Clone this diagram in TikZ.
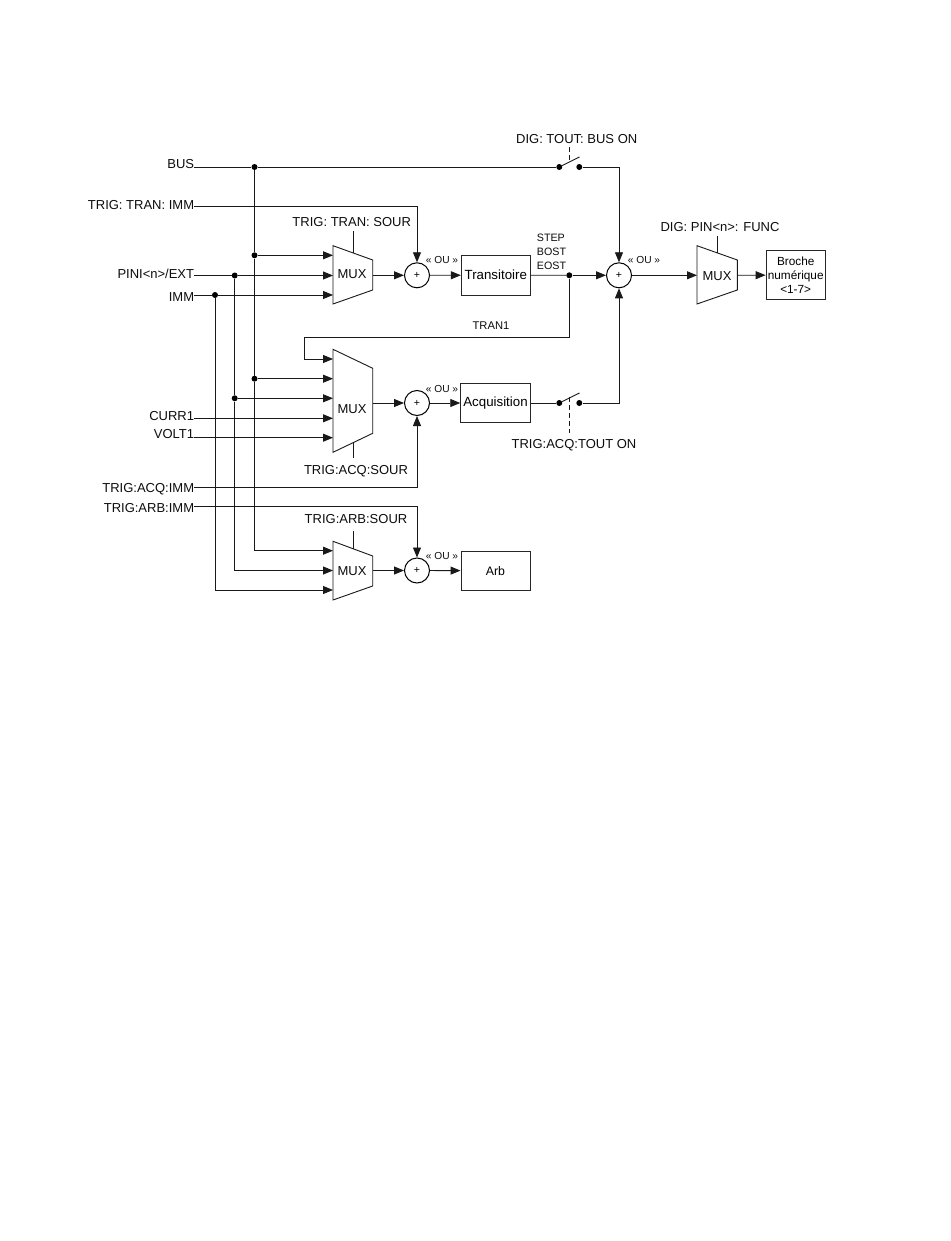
\documentclass[tikz,border=0pt]{standalone}
\usepackage{fontspec}
\setmainfont{Liberation Sans}
\usetikzlibrary{arrows.meta}
\tikzset{
  wire/.style={line width=0.9pt,draw=black!90},
  arr/.style={wire,-{Triangle[length=10pt,width=8pt]}},
  dotn/.style={circle,fill=black,inner sep=0pt,minimum size=6pt},
  sumn/.style={circle,draw=black,line width=1pt,inner sep=0pt,minimum size=25pt,font=\fontsize{10.5}{12}\selectfont},
  boxn/.style={rectangle,draw=black!85,line width=0.9pt,inner sep=0pt,font=\fontsize{13.3}{15}\selectfont},
  lab/.style={inner sep=0pt,font=\fontsize{13}{15}\selectfont,text=black!95},
  labl/.style={lab,anchor=east},
  small/.style={inner sep=0pt,font=\fontsize{10.7}{12}\selectfont,text=black!95},
  oun/.style={inner sep=0pt,font=\fontsize{10.2}{12}\selectfont,text=black!95},
  muxn/.style={wire},
  ctrl/.style={wire,line width=0.75pt},
  dashc/.style={wire,line width=0.75pt,dash pattern=on 5pt off 3pt},
}
\begin{document}
\begin{tikzpicture}[x=1pt,y=-1pt]
\useasboundingbox[fill=white] (0,0) rectangle (950,1241);

% left labels
\node[labl] (lbus) at (194.3,164.5) {BUS};
\node[labl] (ltran) at (194.3,205) {TRIG: TRAN: IMM};
\node[labl] (lpini) at (194.3,273.5) {PINI<n>/EXT};
\node[labl] (limm) at (194.3,297) {IMM};
\node[labl] (lcurr) at (194.3,416) {CURR1};
\node[labl] (lvolt) at (194.3,434) {VOLT1};
\node[labl] (lacq) at (194.3,489.5) {TRIG:ACQ:IMM};
\node[labl] (larb) at (194.3,508) {TRIG:ARB:IMM};
\coordinate (sbus) at (194.3,167);
\coordinate (stran) at (194.3,206.5);
\coordinate (spini) at (194.3,275.5);
\coordinate (simm) at (194.3,295);
\coordinate (scurr) at (194.3,418.3);
\coordinate (svolt) at (194.3,437.7);
\coordinate (sacq) at (194.3,487.3);
\coordinate (sarb) at (194.3,506);

% upper labels
\node[lab] (ltsour) at (351.7,222.3) {TRIG: TRAN: SOUR};
\node[lab] (lasour) at (356,471) {TRIG:ACQ:SOUR};
\node[lab] (lrsour) at (356,519.3) {TRIG:ARB:SOUR};
\node[lab] (ldig) at (576.7,139) {DIG: TOUT: BUS ON};
\node[lab] (lpin) at (720,227) {DIG: PIN<n>: FUNC};
\node[lab] (ltout) at (574,445) {TRIG:ACQ:TOUT ON};
\node[oun] (ou1) at (442,260) {« OU »};
\node[oun] (ou2) at (442,388.5) {« OU »};
\node[oun] (ou3) at (442,556) {« OU »};
\node[oun] (ou4) at (644,260) {« OU »};
\node[small,anchor=west] (lstep) at (536.7,237.7) {STEP};
\node[small,anchor=west] (lbost) at (536.7,252) {BOST};
\node[small,anchor=west] (leost) at (536.7,265.7) {EOST};
\node[small,font=\fontsize{11.2}{13}\selectfont] (ltr1) at (491,326) {TRAN1};

% muxes
\draw[muxn] (333,245.7) -- (372.7,260) -- (372.7,290) -- (333,304) -- cycle;
\draw[muxn] (333,349.3) -- (372.7,368.3) -- (372.7,433.3) -- (333,452.3) -- cycle;
\draw[muxn] (333,541.3) -- (372.7,556) -- (372.7,586) -- (333,600) -- cycle;
\draw[muxn] (697,245.7) -- (737.3,260) -- (737.3,290) -- (697,304) -- cycle;
\node[lab] (m1) at (352,274) {MUX};
\node[lab] (m2) at (352,409.5) {MUX};
\node[lab] (m3) at (352,571) {MUX};
\node[lab] (m4) at (717,276) {MUX};
\coordinate (m1o) at (372.7,275.3);
\coordinate (m2o) at (372.7,403);
\coordinate (m3o) at (372.7,570.5);
\coordinate (m4o) at (737.3,275.3);
\coordinate (m4i) at (697,275.3);
\coordinate (m1a) at (333,255.3);
\coordinate (m1b) at (333,275.5);
\coordinate (m1c) at (333,295);
\coordinate (m2a) at (333,359);
\coordinate (m2b) at (333,378.7);
\coordinate (m2c) at (333,398.3);
\coordinate (m2d) at (333,418.3);
\coordinate (m2e) at (333,437.7);
\coordinate (m3a) at (333,550.7);
\coordinate (m3b) at (333,570.5);
\coordinate (m3c) at (333,590);
\coordinate (m1s) at (353.3,253);
\coordinate (m1st) at (353.3,231);
\coordinate (m2s) at (353.3,443);
\coordinate (m2st) at (353.3,458);
\coordinate (m3s) at (353.3,549);
\coordinate (m3st) at (353.3,531);
\coordinate (m4s) at (717.3,253);
\coordinate (m4st) at (717.3,236);

% summing junctions
\node[sumn] (c1) at (417,275.3) {+};
\node[sumn] (c2) at (417,403) {+};
\node[sumn] (c3) at (417,570.5) {+};
\node[sumn] (c4) at (619,275.3) {+};

% boxes
\node[boxn,minimum width=69pt,minimum height=39.7pt] (bt) at (495.8,275.2) {Transitoire};
\node[boxn,minimum width=69.6pt,minimum height=39.4pt] (ba) at (495.5,403) {Acquisition};
\node[boxn,minimum width=69pt,minimum height=38.7pt,font=\fontsize{12.3}{14}\selectfont] (bb) at (495.5,570.7) {Arb};
\node[boxn,minimum width=59.3pt,minimum height=48.6pt,align=center,font=\fontsize{11.8}{14}\selectfont] (bp) at (795.7,275) {Broche\\num\'erique\\<1-7>};

% dots
\node[dotn] (d1) at (254.5,167) {};
\node[dotn] (d2) at (254.5,255.3) {};
\node[dotn] (d3) at (254.5,378.7) {};
\node[dotn] (d4) at (234.7,275.5) {};
\node[dotn] (d5) at (234.7,398.3) {};
\node[dotn] (d6) at (215,295) {};
\node[dotn] (d7) at (569.3,275.3) {};
\node[dotn] (s1l) at (559.3,167) {};
\node[dotn] (s1r) at (579.3,167) {};
\node[dotn] (s2l) at (559.3,403) {};
\node[dotn] (s2r) at (579.3,403) {};
\coordinate (s1t) at (579.5,157);
\coordinate (s2t) at (579.5,393);
\coordinate (s1ca) at (569.3,147);
\coordinate (s1cb) at (569.3,162);
\coordinate (s2ca) at (569.3,397);
\coordinate (s2cb) at (569.3,433);

% wires
\draw[wire] (sbus) -- (d1) -- (s1l);
\draw[wire] (s1l) -- (s1t);
\draw[dashc] (s1ca) -- (s1cb);
\draw[arr] (s1r) -| (c4.north);
\draw[wire] (d1) -- (d2);
\draw[wire] (d2) -- (d3);
\draw[arr] (d3) |- (m3a);
\draw[arr] (d2) -- (m1a);
\draw[arr] (d3) -- (m2b);
\draw[arr] (stran) -| (c1.north);
\draw[arr] (spini) -- (d4) -- (m1b);
\draw[arr] (simm) -- (d6) -- (m1c);
\draw[wire] (d4) -- (d5);
\draw[arr] (d5) |- (m3b);
\draw[arr] (d5) -- (m2c);
\draw[arr] (d6) |- (m3c);
\draw[arr] (scurr) -- (m2d);
\draw[arr] (svolt) -- (m2e);
\draw[arr] (sacq) -| (c2.south);
\draw[arr] (sarb) -| (c3.north);
\draw[arr] (m1o) -- (c1);
\draw[arr] (m2o) -- (c2);
\draw[arr] (m3o) -- (c3);
\draw[arr] (c1) -- (bt);
\draw[arr] (c2) -- (ba);
\draw[arr] (c3) -- (bb);
\draw[wire] (bt) -- (d7);
\draw[arr] (d7) -- (c4);
\draw[arr] (c4) -- (m4i);
\draw[arr] (m4o) -- (bp);
\draw[arr] (d7) |- (304,337.7) |- (m2a);
\draw[wire] (ba) -- (s2l);
\draw[wire] (s2l) -- (s2t);
\draw[dashc] (s2ca) -- (s2cb);
\draw[arr] (s2r) -| (c4.south);
\draw[ctrl] (m1st) -- (m1s);
\draw[ctrl] (m2s) -- (m2st);
\draw[ctrl] (m3st) -- (m3s);
\draw[ctrl] (m4st) -- (m4s);
\end{tikzpicture}
\end{document}
